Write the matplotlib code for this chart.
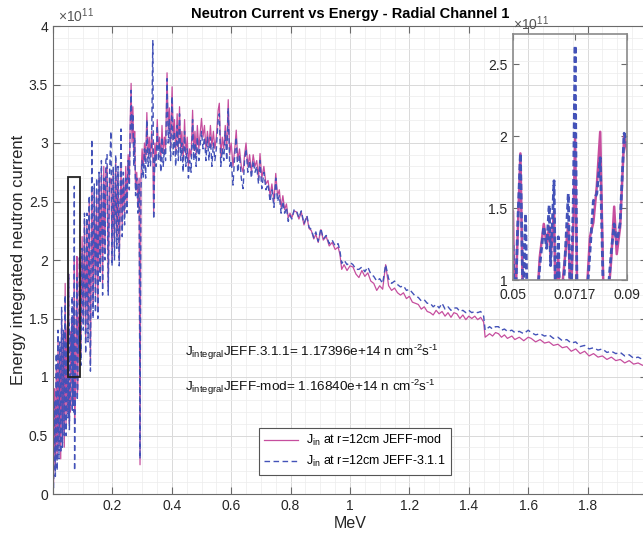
import matplotlib
matplotlib.use('Agg')
import matplotlib.pyplot as plt
import matplotlib.ticker as ticker
from matplotlib.patches import Rectangle

plt.rcParams['font.family'] = ['Liberation Sans', 'DejaVu Sans']
plt.rcParams['mathtext.fontset'] = 'custom'
plt.rcParams['mathtext.rm'] = 'Liberation Sans'
plt.rcParams['mathtext.it'] = 'Liberation Sans:italic'

# energy grid (MeV) and currents in units of 1e11
energy_mev = [
    0.002, 0.005, 0.008, 0.011, 0.014, 0.017, 0.020, 0.023, 0.026, 0.029, 0.032, 0.035, 0.038, 0.041, 0.044, 0.047,
    0.0500, 0.0506, 0.0516, 0.0526, 0.0535, 0.0544, 0.0552, 0.0565, 0.0580, 0.0594, 0.0608, 0.0618, 0.0627, 0.0632,
    0.0644, 0.0650, 0.0659, 0.0665, 0.0680, 0.0694, 0.0702, 0.0712, 0.0718, 0.0727, 0.0740, 0.0760, 0.0770, 0.0782,
    0.0794, 0.0806, 0.0818, 0.0835, 0.0845, 0.0855, 0.0864, 0.0876, 0.0890, 0.0900,
    0.094, 0.098, 0.102, 0.106, 0.110, 0.114, 0.118, 0.122, 0.126, 0.131, 0.135, 0.139, 0.143, 0.147, 0.151, 0.155,
    0.159, 0.163, 0.167, 0.171, 0.175, 0.178, 0.182, 0.186, 0.190, 0.195, 0.199, 0.203, 0.207, 0.211, 0.215, 0.219,
    0.223, 0.229, 0.233, 0.237, 0.241, 0.245, 0.249, 0.253, 0.257, 0.260, 0.263, 0.266, 0.269, 0.272, 0.275, 0.278,
    0.282, 0.286, 0.290, 0.293, 0.296, 0.300, 0.304, 0.308, 0.312, 0.316, 0.320, 0.324, 0.328, 0.332, 0.336, 0.339,
    0.343, 0.347, 0.351, 0.355, 0.359, 0.363, 0.367, 0.371, 0.375, 0.379, 0.384, 0.388, 0.392, 0.396, 0.401, 0.405,
    0.409, 0.413, 0.418, 0.422, 0.426, 0.430, 0.434, 0.438, 0.443, 0.447, 0.452, 0.456, 0.460, 0.465, 0.470, 0.474,
    0.478, 0.482, 0.486, 0.491, 0.496, 0.500, 0.505, 0.510, 0.515, 0.520, 0.525, 0.530, 0.535, 0.540, 0.545, 0.550,
    0.556, 0.560, 0.565, 0.570, 0.575, 0.580, 0.585, 0.590, 0.595, 0.600, 0.606, 0.612, 0.617, 0.622, 0.628, 0.634,
    0.640, 0.645, 0.650, 0.656, 0.662, 0.668, 0.674, 0.680, 0.686, 0.692, 0.697, 0.703, 0.710, 0.717, 0.724, 0.731,
    0.737, 0.744, 0.750, 0.756, 0.762, 0.768, 0.774, 0.780, 0.786, 0.792, 0.798, 0.804, 0.812, 0.820, 0.828, 0.836,
    0.845, 0.855, 0.862, 0.870, 0.878, 0.885, 0.893, 0.902, 0.910, 0.920, 0.930, 0.940, 0.950, 0.960, 0.966, 0.972,
    0.980, 0.990, 1.000, 1.010, 1.020, 1.030, 1.040, 1.050, 1.060, 1.070, 1.080, 1.090, 1.100, 1.110, 1.120, 1.130,
    1.140, 1.150, 1.160, 1.170, 1.180, 1.190, 1.200, 1.210, 1.220, 1.230, 1.240, 1.250, 1.260, 1.270, 1.280, 1.290,
    1.300, 1.310, 1.320, 1.330, 1.340, 1.350, 1.360, 1.370, 1.380, 1.390, 1.400, 1.410, 1.420, 1.430, 1.440, 1.450,
    1.455, 1.470, 1.480, 1.490, 1.500, 1.510, 1.520, 1.530, 1.545, 1.555, 1.570, 1.585, 1.600, 1.610, 1.625, 1.640,
    1.655, 1.670, 1.685, 1.700, 1.715, 1.730, 1.745, 1.760, 1.775, 1.790, 1.805, 1.820, 1.835, 1.850, 1.865, 1.880,
    1.895, 1.910, 1.925, 1.940, 1.955, 1.970, 1.985, 2.000,
]

j_mod = [
    0.10, 0.90, 0.20, 1.10, 0.30, 1.30, 0.40, 1.20, 0.30, 1.50, 0.50, 1.30, 0.40, 1.80, 0.60, 1.40,
    1.48, 0.70, 1.30, 1.88, 0.80, 0.90, 0.60, 0.85, 0.70, 1.16, 1.39, 1.25, 1.37, 1.16,
    1.48, 0.75, 1.15, 0.80, 1.11, 1.39, 0.80, 1.40, 2.00, 0.60, 0.75, 0.95, 1.30, 1.40,
    1.65, 2.03, 0.85, 0.90, 1.15, 1.51, 1.18, 1.37, 2.00, 1.90,
    1.20, 2.20, 1.50, 2.35, 1.30, 2.30, 1.45, 2.50, 1.10, 2.60, 1.60, 2.60, 1.70, 2.55, 1.60, 2.70,
    1.90, 2.75, 1.80, 2.80, 2.10, 2.75, 2.80, 1.75, 2.65, 2.70, 2.00, 2.75, 2.10, 2.85, 2.20, 2.75,
    2.00, 2.80, 2.30, 2.70, 2.40, 2.80, 2.50, 2.90, 2.70, 3.20, 3.51, 3.00, 3.31, 2.90, 3.10, 2.60,
    2.75, 2.45, 2.70, 0.25, 2.70, 2.95, 2.80, 3.00, 2.85, 3.26, 2.90, 3.05, 2.88, 3.10, 2.90, 2.40,
    3.00, 2.85, 3.20, 2.95, 3.05, 2.85, 3.15, 2.91, 3.05, 2.95, 3.60, 3.11, 3.30, 2.95, 3.48, 3.03,
    3.20, 2.90, 3.25, 2.95, 3.31, 2.94, 3.10, 2.85, 3.20, 2.90, 3.05, 2.80, 2.95, 2.88, 3.28, 2.94,
    3.10, 2.90, 3.15, 2.95, 3.10, 3.21, 3.05, 3.15, 2.95, 3.10, 2.97, 3.15, 2.97, 3.10, 2.95, 3.05,
    3.28, 3.34, 2.88, 3.05, 2.95, 3.15, 2.95, 3.37, 2.90, 3.00, 2.80, 2.95, 3.11, 2.85, 2.95, 2.80,
    2.75, 2.90, 3.00, 2.80, 2.90, 2.75, 2.90, 2.80, 2.85, 2.70, 2.91, 2.70, 2.80, 2.65, 2.68, 2.55,
    2.65, 2.50, 2.74, 2.55, 2.60, 2.45, 2.55, 2.43, 2.48, 2.36, 2.40, 2.36, 2.42, 2.41, 2.35, 2.41,
    2.30, 2.37, 2.27, 2.25, 2.18, 2.22, 2.15, 2.26, 2.17, 2.20, 2.12, 2.15, 2.09, 2.11, 2.05, 1.92,
    1.96, 1.91, 1.95, 1.94, 1.88, 1.85, 1.91, 1.86, 1.89, 1.82, 1.80, 1.74, 1.78, 1.75, 1.96, 1.78,
    1.74, 1.76, 1.72, 1.70, 1.72, 1.67, 1.69, 1.64, 1.63, 1.62, 1.58, 1.60, 1.56, 1.55, 1.53, 1.57,
    1.54, 1.56, 1.52, 1.55, 1.51, 1.55, 1.54, 1.50, 1.53, 1.49, 1.52, 1.50, 1.52, 1.49, 1.51, 1.47,
    1.34, 1.37, 1.35, 1.38, 1.37, 1.34, 1.36, 1.33, 1.35, 1.32, 1.34, 1.31, 1.34, 1.33, 1.30, 1.32,
    1.29, 1.30, 1.27, 1.28, 1.25, 1.26, 1.22, 1.24, 1.20, 1.22, 1.18, 1.20, 1.17, 1.18, 1.15, 1.17,
    1.14, 1.15, 1.12, 1.14, 1.11, 1.12, 1.10, 1.11,
]

j_ref = [
    0.05, 0.80, 0.15, 1.20, 0.20, 1.40, 0.30, 1.30, 0.35, 1.60, 0.40, 1.40, 0.50, 1.70, 0.50, 1.30,
    1.25, 0.65, 1.35, 1.88, 0.85, 1.46, 0.55, 0.80, 0.75, 1.10, 1.37, 1.22, 1.52, 1.10,
    1.69, 0.70, 1.30, 0.75, 1.05, 1.60, 0.70, 1.60, 2.63, 0.20, 0.70, 0.90, 1.20, 1.55,
    1.60, 1.85, 0.80, 0.95, 1.20, 1.39, 1.25, 1.40, 2.02, 1.95,
    1.10, 2.10, 1.40, 2.40, 1.20, 2.40, 1.30, 2.55, 1.05, 3.03, 1.50, 2.65, 1.55, 2.70, 1.50, 2.75,
    1.80, 2.85, 1.70, 2.70, 2.00, 2.85, 2.90, 1.70, 2.70, 3.10, 1.95, 2.80, 2.00, 2.90, 2.10, 2.80,
    1.95, 3.12, 2.20, 2.75, 2.30, 2.70, 2.40, 2.85, 2.60, 3.10, 3.45, 3.10, 3.25, 2.80, 3.05, 2.55,
    2.70, 2.40, 2.65, 0.30, 2.60, 2.85, 2.70, 2.95, 2.70, 3.20, 2.80, 2.95, 2.80, 3.00, 3.88, 2.35,
    2.90, 2.80, 3.15, 2.85, 3.00, 2.75, 3.05, 2.80, 2.95, 2.85, 3.55, 3.00, 3.20, 2.85, 3.40, 2.90,
    3.10, 2.80, 3.15, 2.85, 3.25, 2.85, 3.00, 2.75, 3.10, 2.80, 2.95, 2.70, 2.85, 2.75, 3.20, 2.85,
    3.00, 2.80, 3.05, 2.85, 3.00, 3.10, 2.95, 3.05, 2.85, 3.05, 2.85, 3.05, 2.80, 3.00, 2.85, 2.95,
    3.20, 3.25, 2.80, 2.95, 2.85, 3.10, 2.85, 3.30, 2.80, 2.85, 2.64, 2.90, 3.05, 2.75, 2.90, 2.70,
    2.61, 2.85, 2.95, 2.75, 2.85, 2.70, 2.85, 2.75, 2.80, 2.65, 2.85, 2.61, 2.75, 2.60, 2.65, 2.50,
    2.60, 2.45, 2.70, 2.50, 2.55, 2.40, 2.50, 2.40, 2.45, 2.33, 2.38, 2.35, 2.43, 2.42, 2.36, 2.42,
    2.31, 2.38, 2.28, 2.26, 2.19, 2.24, 2.16, 2.27, 2.18, 2.21, 2.14, 2.17, 2.12, 2.14, 2.08, 1.97,
    2.00, 1.96, 1.98, 1.96, 1.92, 1.92, 1.94, 1.90, 1.94, 1.88, 1.86, 1.82, 1.84, 1.80, 1.96, 1.84,
    1.80, 1.82, 1.79, 1.77, 1.78, 1.74, 1.75, 1.72, 1.69, 1.68, 1.65, 1.66, 1.63, 1.63, 1.60, 1.62,
    1.59, 1.63, 1.58, 1.60, 1.57, 1.59, 1.59, 1.56, 1.57, 1.55, 1.57, 1.55, 1.56, 1.55, 1.56, 1.52,
    1.40, 1.43, 1.41, 1.43, 1.43, 1.40, 1.41, 1.39, 1.40, 1.38, 1.39, 1.37, 1.40, 1.38, 1.36, 1.37,
    1.35, 1.36, 1.33, 1.34, 1.31, 1.32, 1.29, 1.30, 1.26, 1.27, 1.24, 1.25, 1.23, 1.24, 1.21, 1.22,
    1.20, 1.21, 1.18, 1.19, 1.16, 1.17, 1.15, 1.14,
]

label_mod = r'J$_{\mathrm{in}}$ at r=12cm JEFF-mod'
label_ref = r'J$_{\mathrm{in}}$ at r=12cm JEFF-3.1.1'
note_ref = r'J$_{\mathrm{integral}}$JEFF.3.1.1= 1.17396e+14 n cm$^{\text{-2}}$s$^{\text{-1}}$'
note_mod = r'J$_{\mathrm{integral}}$JEFF-mod= 1.16840e+14 n cm$^{\text{-2}}$s$^{\text{-1}}$'

c_mod = '#C64E9E'
c_ref = '#4352B8'
txt = '#262626'
edge = '#6a6a6a'

fig = plt.figure(figsize=(6.43, 5.38), dpi=100)
ax = fig.add_axes([53 / 643, 44 / 538, 594 / 643, 468 / 538])

ax.plot(energy_mev, j_mod, color=c_mod, lw=0.9, label=label_mod)
ax.plot(energy_mev, j_ref, color=c_ref, lw=1.0, ls=(0, (4, 2.5)), label=label_ref)

ax.set_xlim(0, 2)
ax.set_ylim(0, 4)
ax.xaxis.set_major_locator(ticker.MultipleLocator(0.2))
ax.xaxis.set_minor_locator(ticker.MultipleLocator(0.05))
ax.yaxis.set_major_locator(ticker.MultipleLocator(0.5))
ax.yaxis.set_minor_locator(ticker.MultipleLocator(0.1))
ax.xaxis.set_major_formatter(ticker.FuncFormatter(lambda v, p: '' if v == 0 else f'{v:g}'))
ax.yaxis.set_major_formatter(ticker.FuncFormatter(lambda v, p: f'{v:g}'))
ax.grid(True, which='major', color='#d9d9d9', lw=0.7)
ax.grid(True, which='minor', color='#ececec', lw=0.5)
ax.set_axisbelow(True)
ax.tick_params(which='major', direction='in', length=5, top=True, right=True,
               labelsize=10, labelcolor=txt, color=edge)
ax.tick_params(which='minor', length=0)
for s in ax.spines.values():
    s.set_color(edge)
    s.set_linewidth(0.8)

ax.set_title('Neutron Current vs Energy - Radial Channel 1', fontsize=10.5, fontweight='bold', pad=6)
ax.set_xlabel('MeV', fontsize=11.5, color=txt, labelpad=2)
ax.set_ylabel('Energy integrated neutron current', fontsize=12, color=txt, labelpad=2)
ax.text(0.008, 1.003, r'$\times\mathrm{10^{11}}$', transform=ax.transAxes, fontsize=10,
        color='#555555', ha='left', va='bottom')

# zoom box
ax.add_patch(Rectangle((0.05, 1.0), 0.04, 1.71, fill=False, ec='#222222', lw=1.3, zorder=5))

ax.text(0.444, 1.21, note_ref, fontsize=9.7, color='#111111', va='center')
ax.text(0.444, 0.91, note_mod, fontsize=9.7, color='#111111', va='center')

leg = ax.legend(loc='lower left', bbox_to_anchor=(0.336, 0.028), fontsize=9, handlelength=2.7,
                fancybox=False, framealpha=1, edgecolor='#555555', borderpad=0.45,
                labelspacing=0.45, handletextpad=0.6)
leg.get_frame().set_linewidth(0.8)

# inset
axin = fig.add_axes([513 / 643, 258 / 538, 114 / 643, 246 / 538])
axin.set_facecolor('none')
axin.plot(energy_mev, j_mod, color=c_mod, lw=1.8)
axin.plot(energy_mev, j_ref, color=c_ref, lw=2.0, ls=(0, (2.2, 1.2)))
axin.set_xlim(0.05, 0.09)
axin.set_ylim(1, 2.71)
axin.set_xticks([0.05, 0.0717, 0.09])
axin.set_xticklabels(['0.05', '0.0717', '0.09'])
axin.set_yticks([1, 1.5, 2, 2.5])
axin.set_yticklabels(['1', '1.5', '2', '2.5'])
axin.tick_params(direction='in', length=4, top=True, right=True, labelsize=10,
                 labelcolor=txt, color=edge)
axin.tick_params(axis='x', pad=6)
axin.tick_params(axis='y', pad=4)
for s in axin.spines.values():
    s.set_color('#8a8a8a')
    s.set_linewidth(1.2)
axin.text(0.0, 1.005, r'$\times\mathrm{10^{11}}$', transform=axin.transAxes, fontsize=10,
          color='#555555', ha='left', va='bottom')

plt.savefig('out.png', dpi=100)
plt.close()
